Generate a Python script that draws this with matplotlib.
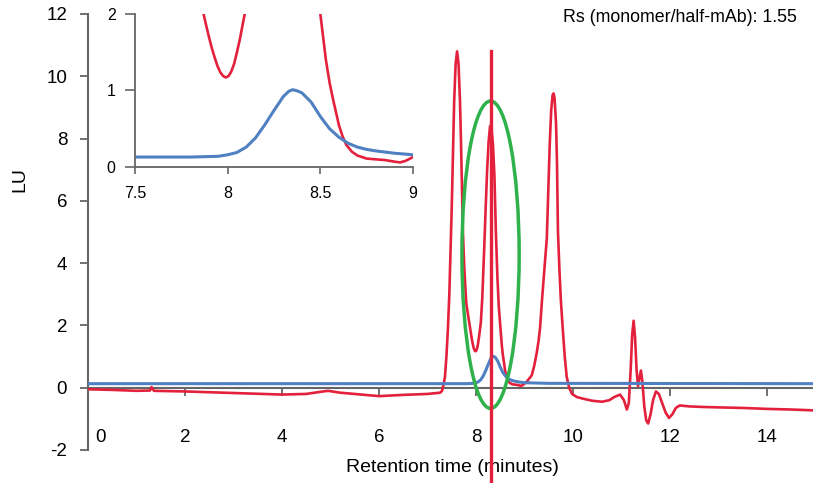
import matplotlib
matplotlib.use("Agg")
import matplotlib.pyplot as plt
from matplotlib.patches import Ellipse
from matplotlib.transforms import ScaledTranslation

plt.rcParams['font.family'] = ['Liberation Sans', 'DejaVu Sans']

# ---------------- data ----------------
red_t = [0.0, 0.5, 1.0, 1.28, 1.31, 1.36, 2.0, 3.0, 4.0, 4.5, 4.8, 4.95, 5.2, 5.5, 6.0, 6.5,
         7.0, 7.26, 7.30, 7.33, 7.36, 7.39, 7.42, 7.45, 7.48, 7.50, 7.52, 7.55, 7.58,
         7.61, 7.64, 7.67, 7.69, 7.71, 7.73, 7.76, 7.80, 7.84, 7.87, 7.885, 7.90, 7.915,
         7.93, 7.945, 7.96, 7.975, 7.99, 8.005, 8.02, 8.035, 8.05, 8.065, 8.08, 8.10,
         8.13, 8.17, 8.20, 8.23, 8.26, 8.29, 8.32, 8.35,
         8.38, 8.41, 8.44, 8.47, 8.50, 8.53, 8.55, 8.57, 8.60, 8.62, 8.64, 8.67, 8.70,
         8.75, 8.80, 8.85, 8.90, 8.93, 8.96, 9.00, 9.05, 9.10, 9.15, 9.20, 9.25, 9.29,
         9.32, 9.36, 9.40, 9.43,
         9.46, 9.49, 9.52, 9.55, 9.58, 9.60, 9.62, 9.65, 9.67, 9.69, 9.72, 9.75, 9.79,
         9.83, 9.87, 9.92, 9.98, 10.08, 10.2, 10.4, 10.6, 10.75, 10.85,
         10.97, 11.05, 11.11, 11.15, 11.19, 11.22, 11.25, 11.28, 11.31, 11.34, 11.37,
         11.40, 11.43, 11.47, 11.51, 11.55, 11.60, 11.65, 11.71, 11.77, 11.84, 11.91,
         11.98, 12.05, 12.12, 12.2, 12.4, 12.7, 13.0, 13.5, 14.0, 14.5, 15.0]
red_v = [-0.05, -0.07, -0.1, -0.09, 0.02, -0.1, -0.12, -0.17, -0.22, -0.2, -0.13, -0.1, -0.16, -0.2, -0.27, -0.23,
         -0.2, -0.16, -0.1, 0.1, 0.35, 1.0, 1.86, 3.0, 4.74, 5.8, 7.2, 9.2, 10.4,
         10.8, 10.4, 9.2, 7.95, 6.5, 5.0, 3.8, 2.7, 2.3, 2.0, 1.84, 1.69, 1.55,
         1.43, 1.32, 1.24, 1.19, 1.17, 1.19, 1.25, 1.35, 1.5, 1.66, 1.85, 2.1,
         2.9, 4.5, 5.8, 7.0, 7.9, 8.4, 8.3, 7.8,
         6.8, 5.0, 3.6, 2.6, 2.0, 1.4, 1.1, 0.87, 0.55, 0.4, 0.29, 0.2, 0.15,
         0.11, 0.10, 0.09, 0.07, 0.06, 0.08, 0.13, 0.2, 0.3, 0.4, 0.7, 1.1, 1.5,
         1.9, 2.8, 3.6, 4.2,
         4.8, 6.3, 7.8, 8.9, 9.4, 9.45, 9.3, 8.5, 7.2, 5.0, 3.8, 2.8, 1.86,
         1.0, 0.35, 0.0, -0.2, -0.3, -0.35, -0.42, -0.45, -0.4, -0.3,
         -0.22, -0.4, -0.7, -0.5, 0.6, 1.7, 2.15, 1.6, 0.6, 0.05, 0.3,
         0.55, 0.2, -0.6, -1.05, -1.15, -0.85, -0.4, -0.12, -0.2, -0.5, -0.8,
         -0.97, -0.85, -0.65, -0.57, -0.6, -0.62, -0.63, -0.65, -0.68, -0.7, -0.73]

blue_t = [0.0, 7.5, 7.8, 7.95, 8.0, 8.05, 8.1, 8.15, 8.2, 8.25, 8.3, 8.33, 8.35, 8.37, 8.4, 8.45,
          8.5, 8.55, 8.6, 8.65, 8.7, 8.75, 8.8, 8.9, 9.0, 9.5, 15.0]
blue_v = [0.13, 0.13, 0.13, 0.14, 0.16, 0.19, 0.26, 0.38, 0.55, 0.74, 0.92, 0.99, 1.01, 1.0, 0.97, 0.85,
          0.66, 0.5, 0.39, 0.31, 0.26, 0.23, 0.21, 0.18, 0.16, 0.14, 0.13]

marker_time = 8.30
marker_top = 10.8

ellipse_center = (8.30, 4.27)
ellipse_width = 1.18
ellipse_height = 9.87

main_xticks = [0, 2, 4, 6, 8, 10, 12, 14]
main_yticks = [-2, 0, 2, 4, 6, 8, 10, 12]
inset_xticks = [7.5, 8, 8.5, 9]
inset_xticklabels = ['7.5', '8', '8.5', '9']
inset_yticks = [0, 1, 2]

rs_text = 'Rs (monomer/half-mAb): 1.55'

# ---------------- styles ----------------
RED = '#e3213d'
BLUE = '#4f81c2'
GREEN = '#2fb14c'
GRAY = '#666666'

W, H = 813, 483
fig = plt.figure(figsize=(W / 100, H / 100), dpi=100)

# main axes
ax = fig.add_axes([88 / W, (H - 450) / H, (W - 88) / W, (450 - 14) / H])
ax.set_xlim(0, (W - 88) / 48.5)
ax.set_ylim(-2, 12)
for s in ['top', 'right']:
    ax.spines[s].set_visible(False)
ax.spines['bottom'].set_position(('data', 0))
for s in ['left', 'bottom']:
    ax.spines[s].set_color(GRAY)
    ax.spines[s].set_linewidth(1.5)
ax.set_xticks(main_xticks)
ax.set_xticklabels([str(v) for v in main_xticks])
ax.set_yticks(main_yticks)
ax.set_yticklabels([str(v) for v in main_yticks])
ax.tick_params(axis='x', direction='out', length=6, width=1.3, color=GRAY,
               pad=24, labelsize=13.5)
ax.tick_params(axis='y', direction='out', length=6, width=1.3, color=GRAY,
               pad=9, labelsize=13.5)
# shift the "0" x label to the right of the spine
xl = ax.get_xticklabels()
xl[0].set_transform(xl[0].get_transform() + ScaledTranslation(12 / 100, 0, fig.dpi_scale_trans))

ax.plot(red_t, red_v, color=RED, lw=1.9, zorder=3)
ax.plot(blue_t, blue_v, color=BLUE, lw=2.2, zorder=3)
ax.add_patch(Ellipse(ellipse_center, ellipse_width, ellipse_height, fill=False,
                     edgecolor=GREEN, lw=2.5, zorder=4))

ax.text(452 / W, 1 - 467 / H, 'Retention time (minutes)', transform=fig.transFigure,
        ha='center', va='center', fontsize=14, zorder=2, clip_on=False)
ax.plot([marker_time, marker_time], [marker_top, -3.2], color=RED, lw=2.4,
        zorder=5, clip_on=False)

fig.text(20 / W, 1 - 180 / H, 'LU', rotation=90, ha='center', va='center', fontsize=14)
fig.text(797 / W, 1 - 18 / H, rs_text, ha='right', va='center', fontsize=12.8)

# inset axes
ia = fig.add_axes([135 / W, (H - 167) / H, (413 - 135) / W, (167 - 14) / H])
ia.set_facecolor('white')
ia.set_xlim(7.5, 9)
ia.set_ylim(0, 2)
for s in ['top', 'right']:
    ia.spines[s].set_visible(False)
for s in ['left', 'bottom']:
    ia.spines[s].set_color(GRAY)
    ia.spines[s].set_linewidth(1.3)
ia.set_xticks(inset_xticks)
ia.set_xticklabels(inset_xticklabels)
ia.set_yticks(inset_yticks)
ia.set_yticklabels([str(v) for v in inset_yticks])
ia.tick_params(axis='x', direction='out', length=5, width=1.2, color=GRAY, pad=9, labelsize=11.5)
ia.tick_params(axis='y', direction='out', length=7, width=1.2, color=GRAY, pad=7, labelsize=11.5)
ia.plot(red_t, red_v, color=RED, lw=1.9)
ia.plot(blue_t, blue_v, color=BLUE, lw=2.2)

fig.savefig('out.png', dpi=100)
